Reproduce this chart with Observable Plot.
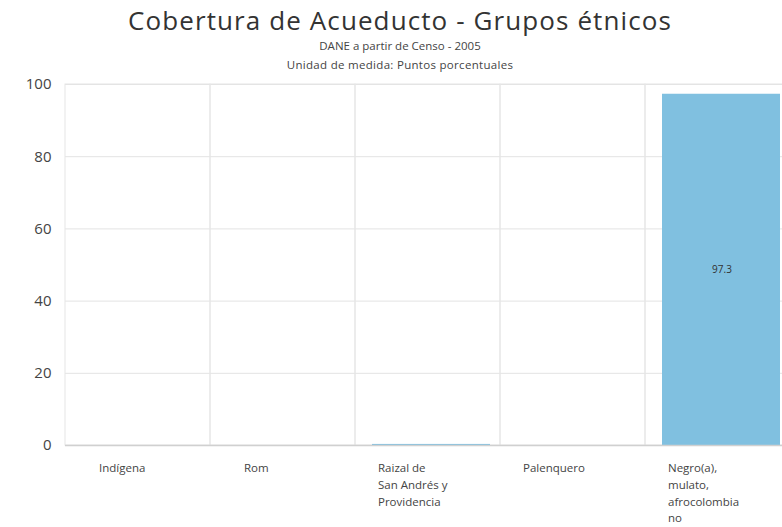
<!DOCTYPE html>
<html>
<head>
<meta charset="utf-8">
<script src="https://cdn.jsdelivr.net/npm/d3@7"></script>
<script src="https://cdn.jsdelivr.net/npm/@observablehq/plot@0.6"></script>
<style>
  html, body { margin: 0; padding: 0; background: #fff; width: 782px; height: 527px; overflow: hidden; }
  #wrap { position: relative; width: 782px; height: 527px; font-family: "Open Sans", "Noto Sans", sans-serif; }
  .hdr { position: absolute; left: 0; width: 800px; text-align: center; white-space: nowrap; }
  #title { top: 2px; font-size: 26px; color: #333; letter-spacing: 1.1px; }
  #sub1 { top: 38px; font-size: 11.5px; color: #444; }
  #sub2 { top: 57px; font-size: 11.5px; color: #444; letter-spacing: 0.3px; }
  #chart { position: absolute; left: 0; top: 70px; }
</style>
</head>
<body>
<div id="wrap">
  <div class="hdr" id="title">Cobertura de Acueducto - Grupos étnicos</div>
  <div class="hdr" id="sub1">DANE a partir de Censo - 2005</div>
  <div class="hdr" id="sub2">Unidad de medida: Puntos porcentuales</div>
  <div id="chart"></div>
</div>
<script>
const categories = ["Indígena", "Rom", "Raizal de San Andrés y Providencia", "Palenquero", "Negro(a), mulato, afrocolombiano"];
const values = [0, 0, 0.3, 0, 97.3];
const tickLabels = ["Indígena", "Rom", "Raizal de\nSan Andrés y\nProvidencia", "Palenquero", "Negro(a),\nmulato,\nafrocolombia\nno"];
const yTicks = [0, 20, 40, 60, 80, 100];

const data = categories.map((c, i) => ({category: c, value: values[i], label: tickLabels[i]}));
const labelStyle = {x: "category", text: "label", frameAnchor: "bottom", lineAnchor: "top", textAnchor: "start", dy: 15, fontSize: 11.5, fill: "#444", lineHeight: 1.45};

const chart = Plot.plot({
  width: 782,
  height: 457,
  marginTop: 14,
  marginBottom: 82,
  marginLeft: 65,
  marginRight: -8,
  style: {fontFamily: "'Open Sans', 'Noto Sans', sans-serif", background: "transparent"},
  x: {domain: categories, paddingInner: 0, paddingOuter: 0, axis: null},
  y: {domain: [0, 100], axis: null},
  marks: [
    Plot.gridY(yTicks, {stroke: "#e3e3e3", strokeOpacity: 1}),
    Plot.barY(categories, {x: d => d, y1: 0, y2: 100, fill: "none", stroke: "#e6e6e6", strokeWidth: 1}),
    Plot.barY(data, {x: "category", y: "value", fill: "#80c0e0", insetLeft: 17, insetRight: 10}),
    Plot.ruleY([0], {stroke: "#d0d0d0", strokeWidth: 1.5}),
    Plot.axisY(yTicks, {tickSize: 0, tickPadding: 14, fontSize: 15, fill: "#444", label: null, tickFormat: d => String(d)}),
    Plot.text(data.filter(d => d.value > 1), {x: "category", y: d => d.value / 2, text: d => d.value.toFixed(1), fontSize: 10, fill: "#333", dx: 4}),
    Plot.text(data.slice(0, 2), {...labelStyle, dx: -39}),
    Plot.text(data.slice(2), {...labelStyle, dx: -50})
  ]
});
document.getElementById("chart").appendChild(chart);
</script>
</body>
</html>
